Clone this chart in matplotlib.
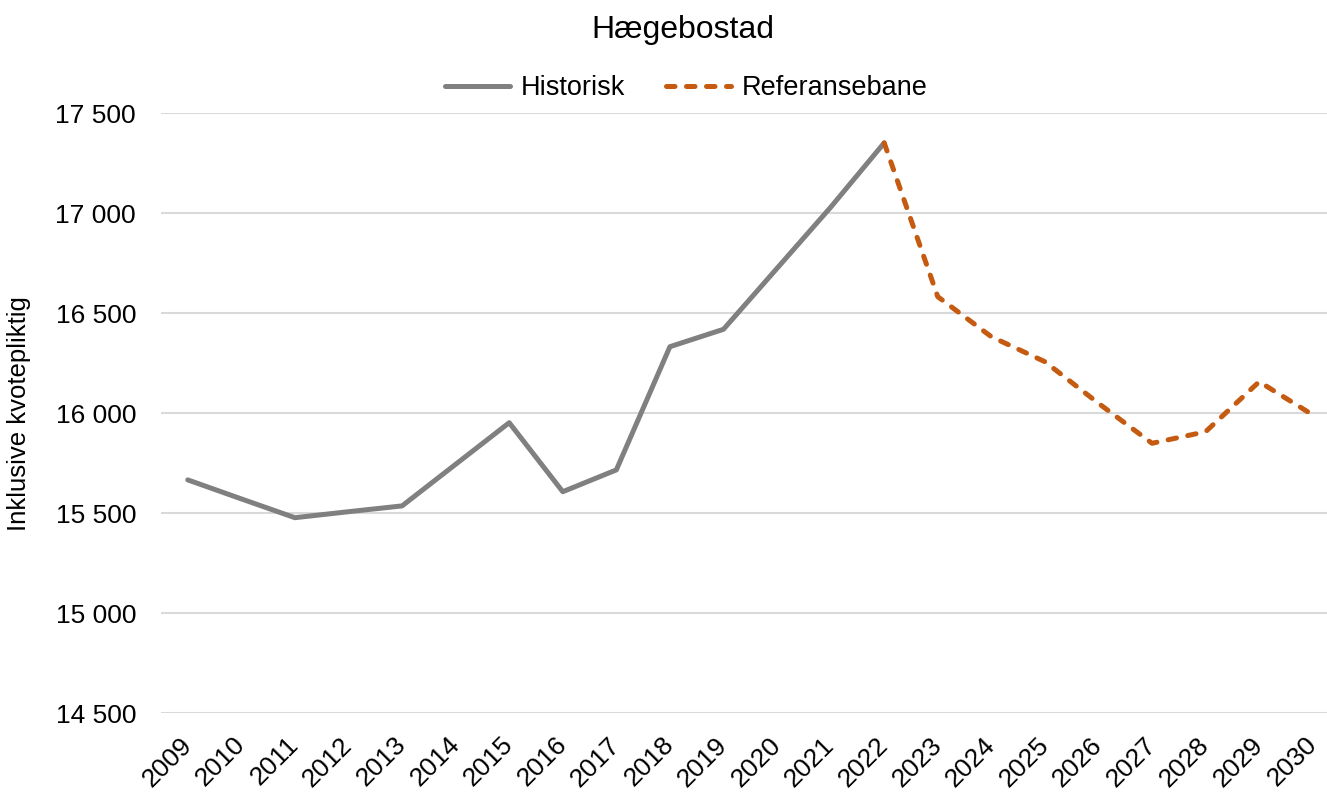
import matplotlib
matplotlib.use("Agg")
import matplotlib.pyplot as plt
from matplotlib.ticker import FuncFormatter, FixedLocator

plt.rcParams['font.family'] = ['Liberation Sans', 'DejaVu Sans']

years_hist = [2009, 2010, 2011, 2012, 2013, 2014, 2015, 2016, 2017, 2018, 2019, 2020, 2021, 2022]
hist_values = [15667, 15572, 15478, 15508, 15537, 15745, 15953, 15608, 15717, 16333, 16420, 16725, 17030, 17352]
years_ref = [2022, 2023, 2024, 2025, 2026, 2027, 2028, 2029, 2030]
ref_values = [17352, 16583, 16383, 16258, 16050, 15850, 15908, 16158, 15992]
all_years = list(range(2009, 2031))
y_ticks = [14500, 15000, 15500, 16000, 16500, 17000, 17500]

W, H = 1327, 792
fig = plt.figure(figsize=(W / 100, H / 100), dpi=100)
left, right, top, bottom = 161, 1327, 113.3, 713.3
ax = fig.add_axes([left / W, 1 - bottom / H, (right - left) / W, (bottom - top) / H])

step = 53.57
ax.set_xlim(2008.5, 2008.5 + (right - left) / step)
ax.set_ylim(14500, 17500)

ax.plot(years_hist, hist_values, color='#808080', lw=3.6, solid_capstyle='round',
        solid_joinstyle='round', label='Historisk', zorder=3)
ax.plot(years_ref, ref_values, color='#C55A11', lw=3.6, linestyle=(0, (1.7, 2.3)),
        dash_capstyle='round', label='Referansebane', zorder=4)

ax.yaxis.set_major_locator(FixedLocator(y_ticks))
ax.yaxis.set_major_formatter(FuncFormatter(lambda v, p: f"{int(v):,}".replace(",", " ")))
ax.set_xticks(all_years)
ax.set_xticklabels([str(y) for y in all_years], rotation=45, ha='right',
                   rotation_mode='anchor', va='center')
ax.tick_params(axis='both', length=0, labelsize=19, colors='black')
ax.tick_params(axis='y', pad=18)
ax.tick_params(axis='x', pad=20)
ax.grid(axis='y', color='#d9d9d9', lw=1.5)
ax.set_axisbelow(True)
for s in ax.spines.values():
    s.set_visible(False)

ax.set_ylabel('Inklusive kvotepliktig', fontsize=18.5)
ax.yaxis.set_label_coords((31 - left) / (right - left), 0.5)

fig.text(683 / W, 1 - 30 / H, 'Hægebostad', ha='center', va='center', fontsize=23)
fig.legend(loc='center', bbox_to_anchor=(686 / W, 1 - 88 / H), ncol=2, frameon=False,
           fontsize=19.5, handlelength=2.4, columnspacing=1.5, handletextpad=0.4)

fig.savefig('out.png', dpi=100)
